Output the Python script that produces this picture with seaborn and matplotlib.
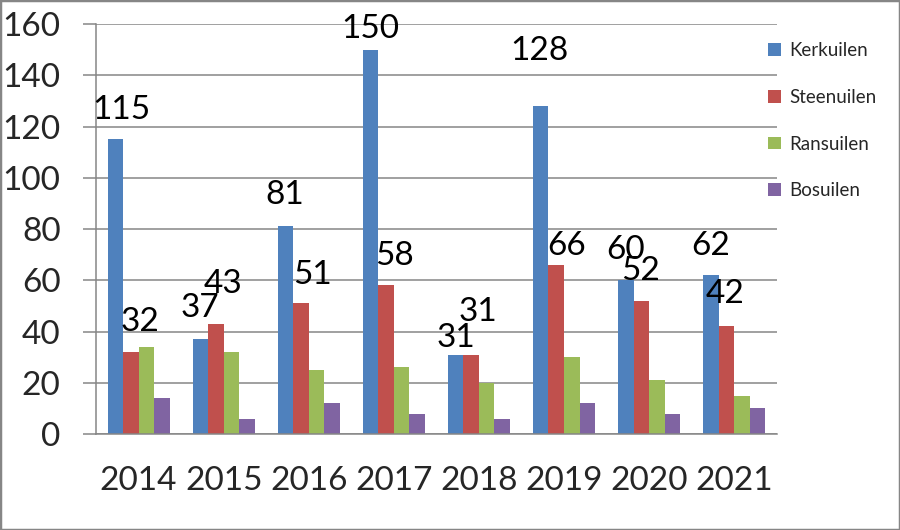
import numpy as np
import pandas as pd
import matplotlib
matplotlib.use("Agg")
import matplotlib.pyplot as plt
import matplotlib.patches as mpatches
import seaborn as sns

sns.set_style("white")
plt.rcParams['font.family'] = ['Lato', 'DejaVu Sans']

# data
years = ['2014', '2015', '2016', '2017', '2018', '2019', '2020', '2021']
species = ['Kerkuilen', 'Steenuilen', 'Ransuilen', 'Bosuilen']
kerkuilen = [115, 37, 81, 150, 31, 128, 60, 62]
steenuilen = [32, 43, 51, 58, 31, 66, 52, 42]
ransuilen = [34, 32, 25, 26, 20, 30, 21, 15]
bosuilen = [14, 6, 12, 8, 6, 12, 8, 10]
y_ticks = [0, 20, 40, 60, 80, 100, 120, 140, 160]

colors = ['#4F81BD', '#C0504D', '#9BBB59', '#8064A2']
grey = '#868686'

# label offsets (pixels) as placed in the original chart
ker_offsets = [(6, 29), (0, 31), (-1, 31), (0, 21), (0, 17), (-1, 55), (0, 30), (0, 29)]
steen_offsets = [(9, 30), (7, 40), (12, 28), (8, 29), (7, 43), (10, 19), (-1, 30), (-1, 32)]

df = pd.DataFrame({'year': years * 4,
                   'species': np.repeat(species, len(years)),
                   'count': kerkuilen + steenuilen + ransuilen + bosuilen})

fig = plt.figure(figsize=(9, 5.3), dpi=100)
ax = fig.add_axes([0.1067, 0.1811, 0.7563, 0.7736])

sns.barplot(data=df, x='year', y='count', hue='species', hue_order=species,
            order=years, palette=colors, saturation=1, width=0.73,
            errorbar=None, linewidth=0, ax=ax)

ax.set_ylim(0, 160)
ax.set_xlim(-0.5, len(years) - 0.5)
ax.set_yticks(y_ticks)
ax.set_xlabel('')
ax.set_ylabel('')
ax.yaxis.grid(True, color=grey, linewidth=1.1)
ax.xaxis.grid(False)
ax.set_axisbelow(True)

for side in ['top', 'right']:
    ax.spines[side].set_visible(False)
for side in ['left', 'bottom']:
    ax.spines[side].set_color(grey)
    ax.spines[side].set_linewidth(1.1)

big = 24
ax.set_xticks(np.arange(-0.5, len(years), 1), minor=True)
ax.tick_params(axis='x', which='major', length=0, pad=23, labelsize=big)
ax.tick_params(axis='x', which='minor', length=8, width=1.1, color=grey, direction='out')
ax.tick_params(axis='y', which='major', length=9.5, width=1.1, color=grey,
               direction='out', pad=16, labelsize=big, left=True)

# data labels for first two series
for cont, vals, offs in [(ax.containers[0], kerkuilen, ker_offsets),
                         (ax.containers[1], steenuilen, steen_offsets)]:
    for bar, v, (dx, dy) in zip(cont.patches, vals, offs):
        ax.annotate(str(v), xy=(bar.get_x() + bar.get_width() / 2, bar.get_height()),
                    xytext=(dx, dy), textcoords='offset pixels',
                    ha='center', va='center', fontsize=big, color='black',
                    annotation_clip=False)

ax.get_legend().remove()
handles = [mpatches.Patch(facecolor=c, edgecolor='none', label=s) for c, s in zip(colors, species)]
fig.legend(handles=handles, loc='upper left', bbox_to_anchor=(0.835, 0.952),
           frameon=False, fontsize=13.5, handlelength=0.65, handleheight=0.65,
           handletextpad=0.45, labelspacing=1.58)

fig.add_artist(mpatches.Rectangle((0, 0), 1, 1, transform=fig.transFigure,
                                  fill=False, edgecolor=grey, linewidth=2.5))

fig.savefig('out.png', dpi=100)
